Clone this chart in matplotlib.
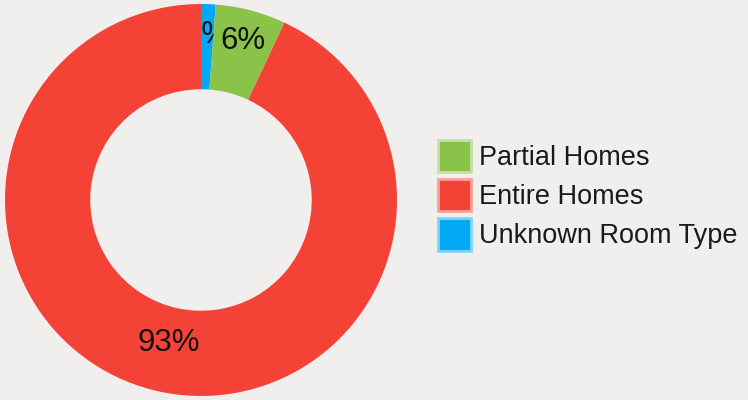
import numpy as np
import matplotlib.pyplot as plt
from matplotlib.patches import Patch

# room type shares (percent), drawn clockwise from 12 o'clock
room_types = ['Unknown Room Type', 'Partial Homes', 'Entire Homes']
shares = [1.2, 5.8, 93.0]
colors = ['#03a9f4', '#8bc34a', '#f44336']
edge_colors = ['#81d4fa', '#c5e1a5', '#f8a09a']
legend_order = ['Partial Homes', 'Entire Homes', 'Unknown Room Type']
label_radius = [0.84, 0.84, 0.75]

plt.rcParams['font.family'] = ['Liberation Sans', 'DejaVu Sans']
bg = '#f0efee'

fig = plt.figure(figsize=(7.48, 4.0), dpi=100, facecolor=bg)
ax = fig.add_axes([5 / 748, 4 / 400, 392 / 748, 392 / 400])
ax.set_facecolor(bg)

wedges, _ = ax.pie(shares, colors=colors, startangle=90, counterclock=False,
                   radius=1.0, wedgeprops=dict(width=0.435, linewidth=0))
ax.set_xlim(-1, 1)
ax.set_ylim(-1, 1)
ax.set_aspect('equal')

# percent labels, each one stacked just above its own wedge
total = sum(shares)
for i, (w, v) in enumerate(zip(wedges, shares)):
    w.set_zorder(2 + 2 * i)
    mid = np.deg2rad((w.theta1 + w.theta2) / 2)
    r = label_radius[i]
    ax.text(r * np.cos(mid), r * np.sin(mid), '%d%%' % round(v / total * 100),
            ha='center', va='center', fontsize=22.5, color='#111111',
            zorder=3 + 2 * i)

handles = []
for name in legend_order:
    k = room_types.index(name)
    handles.append(Patch(facecolor=colors[k], edgecolor=edge_colors[k],
                         linewidth=2, label=name))
fig.legend(handles=handles, loc='upper left',
           bbox_to_anchor=(438 / 748, 1 - 140 / 400), frameon=False,
           fontsize=19.5, handlelength=1.2, handleheight=1.45,
           labelspacing=0.26, handletextpad=0.33, borderpad=0,
           borderaxespad=0, labelcolor='#1a1a1a')

fig.savefig('out.png', dpi=100, facecolor=bg)
